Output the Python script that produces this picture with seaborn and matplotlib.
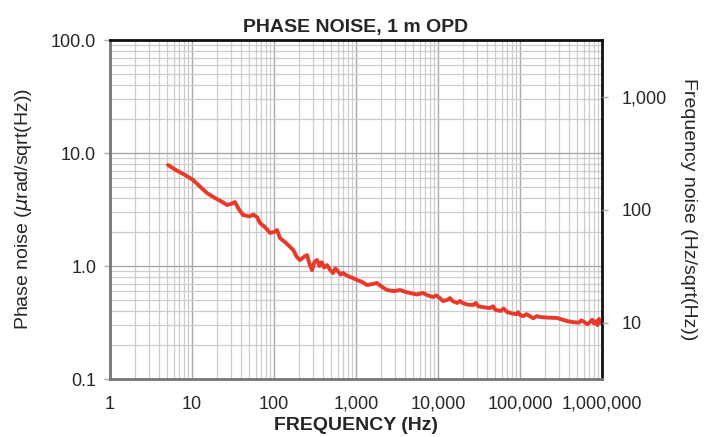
import numpy as np
import pandas as pd
import seaborn as sns
import matplotlib.pyplot as plt
from matplotlib.ticker import FixedLocator, FixedFormatter, NullLocator, LogLocator

# Data (frequency in Hz, phase noise in urad/sqrt(Hz))
freq = [5.1, 6.5, 8.2, 10.3, 12.5, 15.2, 19.0, 22.5, 26.7, 30.0, 33.4, 37.0,
        41.9, 50.0, 56.0, 62.1, 67.5, 78.0, 89.4, 100, 109, 118, 140, 171,
        190, 207, 230, 253, 270, 291, 310, 334, 360, 380, 410, 443, 480, 524,
        560, 600, 650, 694, 760, 845, 930, 1030, 1200, 1360, 1550, 1800, 2100,
        2390, 2900, 3440, 4000, 4560, 5500, 6560, 7500, 8690, 9500, 10500,
        11500, 12900, 14000, 15000, 17100, 18500, 20000, 23000, 26700, 29000,
        31000, 37000, 43100, 47000, 50000, 58000, 63000, 69400, 80000, 90000,
        95000, 100000, 110000, 120000, 135000, 145000, 160000, 175000, 210000,
        250000, 283000, 330000, 380000, 443000, 520000, 560000, 600000, 660000,
        714000, 760000, 800000, 850000, 880000, 920000, 946000, 1000000]
phase = [7.83, 7.0, 6.4, 5.77, 5.05, 4.43, 4.0, 3.75, 3.47, 3.55, 3.68, 3.2,
         2.83, 2.75, 2.85, 2.71, 2.40, 2.2, 1.96, 2.0, 2.08, 1.77, 1.6, 1.39,
         1.2, 1.13, 1.2, 1.25, 1.05, 0.92, 1.08, 1.13, 1.0, 1.08, 0.97, 1.02,
         0.93, 0.867, 0.95, 0.9, 0.84, 0.867, 0.83, 0.80, 0.78, 0.752, 0.72,
         0.679, 0.69, 0.707, 0.65, 0.613, 0.6, 0.613, 0.59, 0.577, 0.56, 0.577,
         0.55, 0.532, 0.55, 0.52, 0.49, 0.50, 0.52, 0.49, 0.471, 0.49, 0.47,
         0.455, 0.452, 0.47, 0.44, 0.43, 0.425, 0.44, 0.41, 0.40, 0.42, 0.392,
         0.38, 0.375, 0.39, 0.368, 0.36, 0.375, 0.356, 0.345, 0.36, 0.354,
         0.35, 0.348, 0.347, 0.335, 0.325, 0.319, 0.315, 0.33, 0.322, 0.305,
         0.319, 0.335, 0.31, 0.325, 0.30, 0.34, 0.319, 0.31]

x_ticks = [1, 10, 100, 1000, 10000, 100000, 1000000]
x_labels = ['1', '10', '100', '1,000', '10,000', '100,000', '1,000,000']
y_ticks = [0.1, 1, 10, 100]
y_labels = ['0.1', '1.0', '10.0', '100.0']
r_ticks = [10, 100, 1000]
r_labels = ['10', '100', '1,000']
ratio = 10 ** 1.5  # frequency noise axis offset relative to phase noise axis

df = pd.DataFrame({'Frequency': freq, 'Phase': phase})

sns.set_style('white')
plt.rcParams['font.family'] = ['Liberation Sans', 'DejaVu Sans']

fig = plt.figure(figsize=(7.13, 4.37), dpi=100)
ax = fig.add_axes([0.1543, 0.1327, 0.690, 0.7757])

sns.lineplot(data=df, x='Frequency', y='Phase', ax=ax, color='#e8392a',
             linewidth=2.8, estimator=None, sort=False)

ax.set_xscale('log')
ax.set_yscale('log')
ax.set_xlim(1, 1e6)
ax.set_ylim(0.1, 100)

ax.xaxis.set_major_locator(FixedLocator(x_ticks))
ax.xaxis.set_major_formatter(FixedFormatter(x_labels))
ax.yaxis.set_major_locator(FixedLocator(y_ticks))
ax.yaxis.set_major_formatter(FixedFormatter(y_labels))
ax.xaxis.set_minor_locator(LogLocator(base=10, subs=np.arange(2, 10), numticks=20))
ax.yaxis.set_minor_locator(LogLocator(base=10, subs=np.arange(2, 10), numticks=20))

ax.grid(True, which='major', color='#a8a8a8', linewidth=1.0)
ax.grid(True, which='minor', color='#cccccc', linewidth=0.9)
ax.set_axisbelow(True)

ax.tick_params(axis='both', which='major', length=4, width=1, color='#aaaaaa',
               labelsize=13, pad=6)
ax.tick_params(axis='x', which='major', pad=8)
ax.tick_params(axis='both', which='minor', length=0)

for side in ['left', 'bottom']:
    ax.spines[side].set_color('#777777')
    ax.spines[side].set_linewidth(2.0)
for side in ['top', 'right']:
    ax.spines[side].set_color('#111111')
    ax.spines[side].set_linewidth(2.0)

ax.set_xlabel('FREQUENCY (Hz)', fontsize=14, fontweight='bold', labelpad=3)
ax.set_ylabel(r'Phase noise ($\mu$rad/sqrt(Hz))', fontsize=14, labelpad=12)
ax.set_title('PHASE NOISE, 1 m OPD', fontsize=14, fontweight='bold', pad=6)

ax2 = ax.twinx()
ax2.set_yscale('log')
ax2.set_ylim(0.1 * ratio, 100 * ratio)
ax2.yaxis.set_major_locator(FixedLocator(r_ticks))
ax2.yaxis.set_major_formatter(FixedFormatter(r_labels))
ax2.yaxis.set_minor_locator(NullLocator())
ax2.tick_params(axis='y', which='major', length=4, width=1, color='#aaaaaa',
                labelsize=13, pad=10)
for side in ax2.spines:
    ax2.spines[side].set_visible(False)
ax2.set_ylabel('Frequency noise (Hz/sqrt(Hz))', fontsize=14, rotation=-90,
               labelpad=22)

plt.savefig('out.png', dpi=100)
plt.close()
